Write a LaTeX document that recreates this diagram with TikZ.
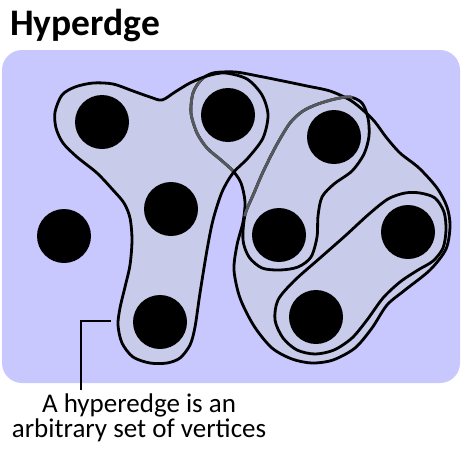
\documentclass[tikz,border=0pt]{standalone}
\usepackage{fontspec}
\setmainfont{Carlito}
\definecolor{panelbg}{RGB}{200,200,255}
\definecolor{edgefill}{RGB}{200,204,234}
\definecolor{hiddenline}{RGB}{85,88,92}
\newcommand\pathEone{plot[smooth cycle,tension=0.5] coordinates {(55,112) (62,95) (75,87) (93,83) (113,84) (133,91) (150,97) (162,100) (175,92) (190,83) (207,76) (225,73) (247,79) (262,95) (268,115) (263,138) (248,158) (233,173) (222,192) (213,220) (207,250) (200,293) (195,327) (190,345) (180,358) (167,363) (150,363) (133,357) (122,343) (118,325) (120,308) (125,287) (130,265) (132,240) (130,218) (124,203) (113,190) (97,173) (77,157) (63,143) (56,128)}}
\newcommand\pathEtwo{plot[smooth cycle,tension=0.5] coordinates {(213,73) (235,72) (258,76) (283,81) (307,86) (330,91) (350,100) (364,111) (375,122) (386,137) (400,153) (419,168) (437,188) (447,207) (450,226) (446,249) (430,270) (405,290) (387,305) (372,328) (355,348) (333,360) (312,363) (292,359) (272,348) (254,326) (240,298) (234,270) (237,245) (243,222) (245,202) (241,183) (233,171) (221,160) (207,148) (197,133) (191,113) (193,93) (201,80)}}
\newcommand\pathEthree{plot[smooth cycle,tension=0.5] coordinates {(245,215) (254,193) (263,172) (276,146) (290,123) (303,111) (318,104) (335,99) (350,97) (362,103) (368,118) (369,136) (364,154) (352,171) (334,184) (322,197) (318,216) (317,237) (311,257) (298,267) (280,270) (262,268) (249,257) (243,240)}}
\newcommand\pathEfour{plot[smooth cycle,tension=0.5] coordinates {(405,193) (420,193) (435,198) (444,212) (446,230) (443,248) (433,261) (418,270) (400,282) (383,298) (367,320) (352,338) (334,350) (315,354) (297,350) (283,338) (275,320) (278,300) (294,281) (320,258) (345,236) (369,214) (388,199)}}
\begin{document}
\begin{tikzpicture}[x=1pt,y=-1pt,
  vertex/.style={circle,fill=black,inner sep=0pt,minimum size=54pt},
  hedge/.style={line width=2.8pt,line join=round,draw=black},
  hidden/.style={line width=2.8pt,line join=round,draw=hiddenline},
  pointer/.style={line width=2.8pt,draw=black}]
\useasboundingbox (0,0) rectangle (462,448);
% panel
\fill[panelbg,rounded corners=20pt] (2,50) rectangle (460,383);
% title
\node[anchor=base west,inner sep=0pt,font=\fontsize{37.5}{42}\selectfont\bfseries] (title) at (10,35) {Hyperdge};
% hyperedge fills
\fill[edgefill] \pathEtwo;
\fill[edgefill] \pathEthree;
\fill[edgefill] \pathEfour;
\fill[edgefill] \pathEone;
% outlines
\path[hedge] \pathEtwo;
\begin{scope}
  \clip \pathEone;
  \path[hidden] \pathEtwo;
\end{scope}
\path[hedge] \pathEthree;
\begin{scope}
  \clip (215,218) -- (250,216) -- (268,176) -- (295,127) -- (320,110) -- (346,104) -- (352,103) -- (354,80) -- (215,80) -- cycle;
  \path[hidden] \pathEthree;
\end{scope}
\path[hedge] \pathEfour;
\path[hedge] \pathEone;
% vertices
\node[vertex] (v1) at (102,122) {};
\node[vertex] (v2) at (228,115) {};
\node[vertex] (v3) at (334,137) {};
\node[vertex] (v4) at (171,209) {};
\node[vertex] (v5) at (64,236) {};
\node[vertex] (v6) at (279,235) {};
\node[vertex] (v7) at (408,232) {};
\node[vertex] (v8) at (160,322) {};
\node[vertex] (v9) at (316,317) {};
% caption and pointer
\node[anchor=north,inner sep=0pt,align=center,font=\fontsize{27}{25}\selectfont] (caption) at (139,394) {A hyperedge is an\\arbitrary set of vertices};
\coordinate (ptr) at (111,321);
\coordinate (elbow) at (81,321);
\coordinate (ptrend) at (81,390);
\draw[pointer] (ptr) -- (elbow) -- (ptrend);
\end{tikzpicture}
\end{document}
